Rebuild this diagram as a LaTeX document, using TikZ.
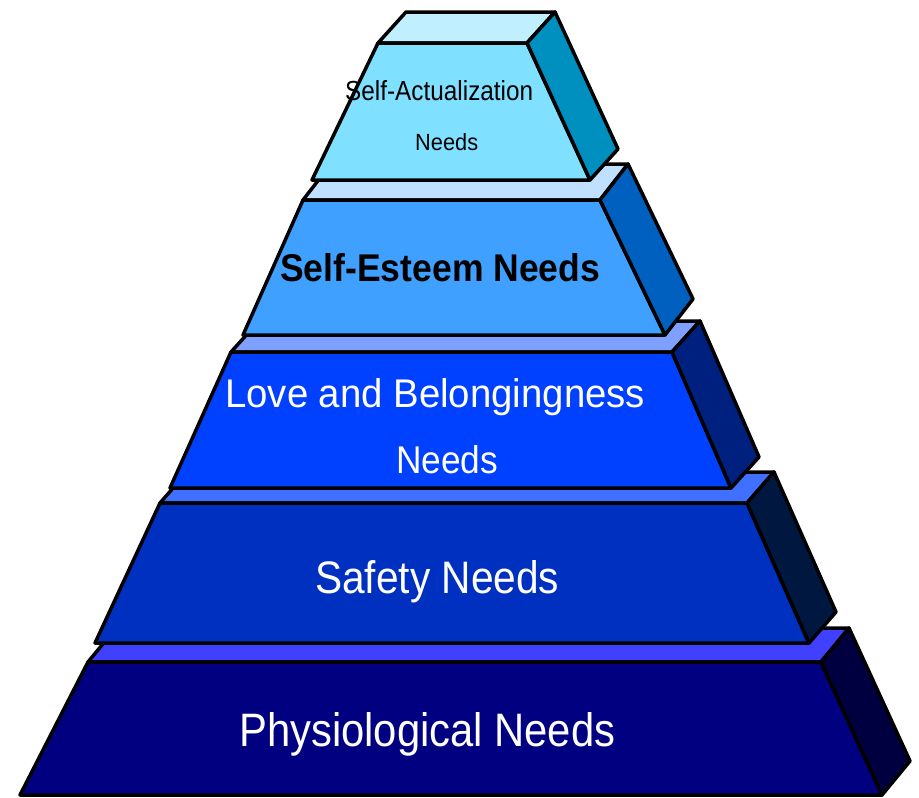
\documentclass[tikz,border=0pt]{standalone}
\usepackage{fontspec}
\setmainfont{Liberation Sans}
\usepackage{graphicx}

% face colours of the five tiers, top to bottom
\definecolor{t1top}{HTML}{C0F0FF}\definecolor{t1front}{HTML}{80E0FF}\definecolor{t1side}{HTML}{0090C0}
\definecolor{t2top}{HTML}{C0E0FF}\definecolor{t2front}{HTML}{40A0FF}\definecolor{t2side}{HTML}{0060C0}
\definecolor{t3top}{HTML}{80A0FF}\definecolor{t3front}{HTML}{0040FF}\definecolor{t3side}{HTML}{002080}
\definecolor{t4top}{HTML}{4070FF}\definecolor{t4front}{HTML}{0030C0}\definecolor{t4side}{HTML}{001840}
\definecolor{t5top}{HTML}{4040FF}\definecolor{t5front}{HTML}{000080}\definecolor{t5side}{HTML}{000040}

% one block of the pyramid: top strip, front trapezoid, right side
% #1 top y, #2 bottom y, #3/#4 top left/right x, #5/#6 bottom left/right x,
% #7 depth dx, #8 depth dy (upwards), #9 colour prefix
\newcommand\pyrtier[9]{%
  \filldraw[edge, fill=#9top] (#3,#1) -- (#4,#1) -- (#4+#7,#1-#8) -- (#3+#7,#1-#8) -- cycle;
  \filldraw[edge, fill=#9front] (#3,#1) -- (#4,#1) -- (#6,#2) -- (#5,#2) -- cycle;
  \filldraw[edge, fill=#9side] (#4,#1) -- (#4+#7,#1-#8) -- (#6+#7,#2-#8) -- (#6,#2) -- cycle;
}
% label squeezed to a given width and ascender height
\newcommand\fitlabel[3]{\resizebox{#1pt}{#2pt}{#3}}

\begin{document}
\begin{tikzpicture}[x=1pt, y=-1pt,
  edge/.style={draw=black, line width=3.5pt, line join=round},
  label/.style={inner sep=0pt, anchor=base west}]
\useasboundingbox (0,0) rectangle (919,798);
\fill[white] (0,0) rectangle (919,798);

\pyrtier{662}{795}{88}{821}{20}{882}{28}{34}{t5}
\pyrtier{503}{643}{160}{747}{95}{809}{27}{31}{t4}
\pyrtier{352}{488}{231}{672}{170}{731}{28}{31}{t3}
\pyrtier{200}{335}{303}{600}{243}{665}{28}{36}{t2}
\pyrtier{43}{180}{378}{527}{312}{590}{28}{31}{t1}

\node[label, text=black] (sa1) at (345,100) {\fitlabel{188}{20}{Self-Actualization}};
\node[label, text=black] (sa2) at (415,150) {\fitlabel{63}{17}{Needs}};
\node[label, text=black] (se) at (280,281) {\fitlabel{320}{28}{\bfseries Self-Esteem Needs}};
\node[label, text=white] (lb1) at (225,407) {\fitlabel{420}{29}{Love and Belongingness}};
\node[label, text=white] (lb2) at (396,473) {\fitlabel{102}{28}{Needs}};
\node[label, text=white] (sf) at (315,593) {\fitlabel{244}{33}{Safety Needs}};
\node[label, text=white] (ph) at (239,746) {\fitlabel{376}{34}{Physiological Needs}};
\end{tikzpicture}
\end{document}
